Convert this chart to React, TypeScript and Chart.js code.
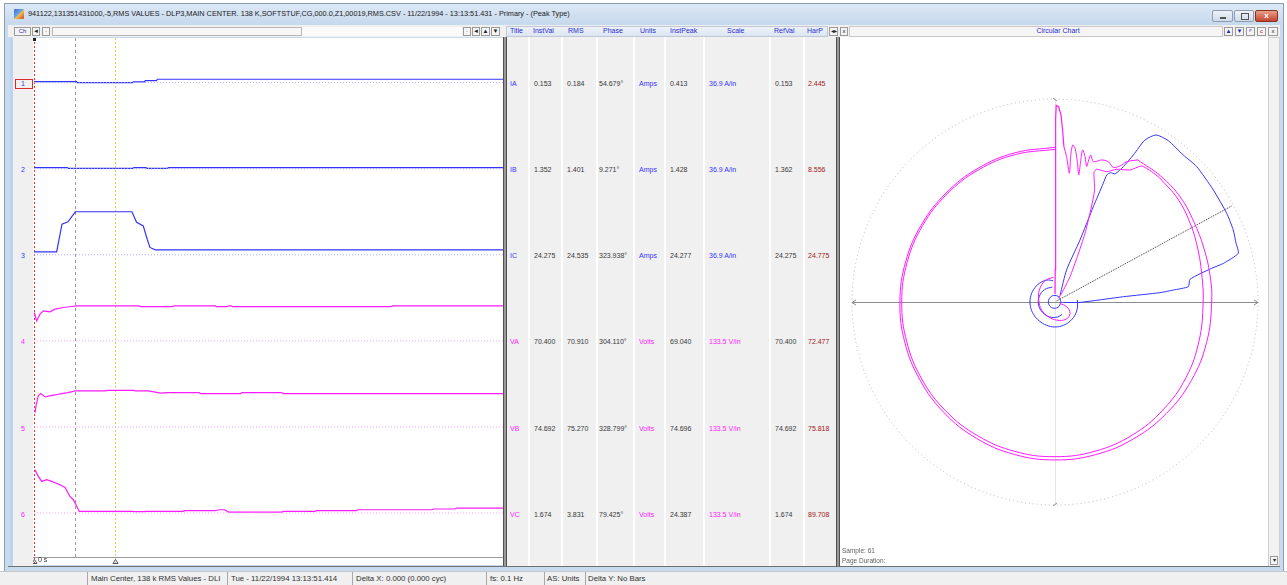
import React, { useEffect, useRef } from "react";
import { Chart, registerables } from "chart.js";

Chart.register(...registerables);

// ---------------- channel table data ----------------
const channelIds = ["1", "2", "3", "4", "5", "6"];
const channelTitles = ["IA", "IB", "IC", "VA", "VB", "VC"];
const channelUnits = ["Amps", "Amps", "Amps", "Volts", "Volts", "Volts"];
const instVals = ["0.153", "1.352", "24.275", "70.400", "74.692", "1.674"];
const rmsVals = ["0.184", "1.401", "24.535", "70.910", "75.270", "3.831"];
const phaseVals = ["54.679°", "9.271°", "323.938°", "304.110°", "328.799°", "79.425°"];
const instPeaks = ["0.413", "1.428", "24.277", "69.040", "74.696", "24.387"];
const scaleLabels = ["36.9 A/in", "36.9 A/in", "36.9 A/in", "133.5 V/in", "133.5 V/in", "133.5 V/in"];
const refVals = ["0.153", "1.362", "24.275", "70.400", "74.692", "1.674"];
const harPVals = ["2.445", "8.556", "24.775", "72.477", "75.818", "89.708"];
const tableHeaders = ["Title", "InstVal", "RMS", "Phase", "Units", "InstPeak", "Scale", "RefVal", "HarP"];

// display scale: engineering units spanned by one channel band
const unitsPerBand = [420, 420, 420, 176, 176, 176];

// ---------------- time traces: [sample, value] ----------------
const sampleMax = 352;
const cursorSamples = [0, 31, 61];

const traceIA: [number, number][] = [
  [0, 4.9], [32, 4.9], [32.5, 0.15], [74, 0.15], [74.5, 3.4], [83, 3.4], [83.5, 9.8], [92, 9.8], [92.5, 16.6], [352, 16.6],
];
const traceIB: [number, number][] = [
  [0, 5.4], [25, 5.4], [26, 1.4], [74, 1.4], [75, 5.4], [84, 5.4], [85, 1.4], [100, 1.4], [101, 5.4], [352, 5.4],
];
const traceIC: [number, number][] = [
  [0, 14.6], [17, 14.6], [21, 150], [25.5, 161], [31, 210], [73.5, 210], [77, 159], [82, 141], [85, 76], [87, 36], [91, 24.3], [352, 24.3],
];
const traceVA: [number, number][] = [
  [0.2, 58.1], [2, 40.9], [4.5, 54.6], [7, 61.3], [12, 59.3], [15.8, 64.8], [22, 68.3], [28.3, 70.3], [32, 71.6],
  [79, 71.6], [80, 70.0], [104, 70.0], [105, 71.6], [136, 71.6], [137, 70.0], [145, 70.0], [146, 71.6], [148, 71.6],
  [149, 70.0], [268, 70.0], [269, 71.6], [352, 71.6],
];
const traceVB: [number, number][] = [
  [0.75, 29.4], [1.5, 42.9], [3.2, 63.4], [5, 68.3], [8.3, 61.3], [11.5, 63.4], [15.8, 65.4], [20.8, 68.3], [25.7, 70.3],
  [30.8, 73.6], [53, 73.6], [56, 74.6], [75, 74.6], [76, 73.6], [86, 73.6], [95, 69], [100, 70.3], [124, 70.3],
  [125, 68.1], [155, 68.1], [156, 70.3], [186, 70.3], [187, 68.1], [352, 68.1],
];
const traceVC: [number, number][] = [
  [0.75, 88.5], [3.2, 74.8], [5.8, 64.6], [9.5, 68.1], [13.3, 64.6], [19.5, 57.9], [23.3, 52.4], [27, 33.9], [29.5, 27.2],
  [31.5, 17], [34, 3.3], [74, 3.3], [75, 2.7], [83, 2.7], [84, 3.3], [112, 3.3], [113, 4.7], [136, 4.7], [139, 6.7],
  [143, 6.7], [146, 2.0], [186, 2.0], [187, 3.3], [211, 3.3], [212, 4.7], [242, 4.7], [243, 6.7], [299, 6.7],
  [300, 8.2], [316, 8.2], [317, 10.2], [352, 10.2],
];
const traces = [traceIA, traceIB, traceIC, traceVA, traceVB, traceVC];

// ---------------- circular chart (phasors, fraction of full scale) ----------------
// [re, im] points
const phasorVcPath: [number, number][] = [
  [0.0, 0.04], [0.001, 0.158], [0.003, 0.289], [0.004, 0.388], [0.004, 0.5], [0.003, 0.62], [0.002, 0.757],
  [0.003, 0.9], [0.006, 0.968], [0.018, 0.962], [0.03, 0.92], [0.038, 0.84], [0.044, 0.765],
];
const phasorVaTransition: [number, number][] = [
  [0.044, 0.765], [0.057, 0.716], [0.071, 0.634], [0.077, 0.716], [0.087, 0.773], [0.099, 0.757], [0.11, 0.691],
  [0.117, 0.626], [0.126, 0.691], [0.136, 0.749], [0.148, 0.716], [0.156, 0.667], [0.166, 0.7], [0.176, 0.724],
  [0.189, 0.691], [0.23, 0.7], [0.263, 0.691], [0.287, 0.663], [0.32, 0.67], [0.353, 0.691], [0.406, 0.7],
];
// [angle deg, magnitude]
const phasorVaRing: [number, number][] = [
  [60, 0.81], [50, 0.81], [40, 0.805], [30, 0.79], [20, 0.78], [10, 0.775], [0, 0.772], [-15, 0.773], [-30, 0.775],
  [-45, 0.776], [-60, 0.777], [-75, 0.778], [-90, 0.778], [-105, 0.777], [-120, 0.775], [-135, 0.772], [-150, 0.768],
  [-165, 0.766], [-180, 0.764], [-195, 0.762], [-210, 0.76], [-225, 0.759], [-240, 0.76], [-255, 0.761], [-270, 0.762],
];
const phasorVbTransition: [number, number][] = [
  [0.016, 0.018], [0.033, 0.043], [0.074, 0.125], [0.11, 0.223], [0.148, 0.338], [0.176, 0.453], [0.195, 0.552],
  [0.192, 0.64], [0.205, 0.654], [0.255, 0.642], [0.304, 0.654], [0.369, 0.65], [0.427, 0.67], [0.476, 0.642], [0.514, 0.613],
];
const phasorVbRing: [number, number][] = [
  [50, 0.8], [40, 0.79], [30, 0.77], [20, 0.75], [10, 0.735], [0, 0.73], [-15, 0.735], [-30, 0.745], [-45, 0.752],
  [-60, 0.758], [-75, 0.761], [-90, 0.762], [-105, 0.762], [-120, 0.761], [-135, 0.76], [-150, 0.758], [-165, 0.756],
  [-180, 0.755], [-195, 0.754], [-210, 0.753], [-225, 0.752], [-240, 0.752], [-255, 0.752], [-270, 0.752],
];
const phasorVcSettle: [number, number][] = [
  [-0.008, 0.122], [-0.049, 0.105], [-0.077, 0.059], [-0.08, 0.01], [-0.066, -0.039], [-0.033, -0.072],
  [0.008, -0.089], [0.054, -0.085], [0.074, -0.056], [0.057, -0.023], [0.025, -0.007],
];
const phasorIcPath: [number, number][] = [
  [0.025, 0.034], [0.057, 0.158], [0.123, 0.305], [0.189, 0.47], [0.238, 0.585], [0.255, 0.626], [0.274, 0.637],
  [0.296, 0.631], [0.337, 0.667], [0.386, 0.724], [0.443, 0.798], [0.498, 0.823], [0.558, 0.795], [0.632, 0.724],
  [0.698, 0.667], [0.78, 0.552], [0.846, 0.437], [0.878, 0.355], [0.892, 0.289], [0.903, 0.24], [0.829, 0.19],
  [0.772, 0.166], [0.665, 0.112], [0.657, 0.076], [0.583, 0.059], [0.517, 0.046], [0.337, 0.026], [0.123, -0.002], [0.041, -0.002],
];
const phasorIaRing: [number, number][] = [
  [95, 0.105], [110, 0.115], [130, 0.12], [150, 0.122], [170, 0.123], [190, 0.123], [210, 0.122], [230, 0.121],
  [250, 0.122], [270, 0.123], [290, 0.122], [310, 0.12], [330, 0.117], [350, 0.113], [365, 0.11],
];
const phasorIbRing: [number, number][] = [
  [100, 0.075], [130, 0.08], [160, 0.082], [190, 0.082], [220, 0.08], [250, 0.078], [280, 0.075], [300, 0.07],
];
const phasorIbCore: [number, number][] = [
  [0, 0.03], [60, 0.032], [120, 0.033], [180, 0.033], [240, 0.032], [300, 0.03], [360, 0.03],
];
const cursorPhasor: [number, number][] = [[0.008, 0.005], [0.87, 0.473]];

const sampleLabel = "Sample: 61";

// ---------------- styling ----------------
const FONT = '"Liberation Sans", Arial, sans-serif';
const BLUE = "#3434ff";
const MAGENTA = "#ff1aff";
const chColor = (k: number) => (k < 3 ? BLUE : MAGENTA);
const chBase = (k: number) => (k < 3 ? "#a8a8ff" : "#ffa0ff");
const rowY = (k: number) => 84.3 + 86.1 * k;

const fromReIm = (pts: [number, number][]) => pts.map(([x, y]) => ({ x, y }));
const fromPolar = (pts: [number, number][]) =>
  pts.map(([a, m]) => ({ x: m * Math.cos((a * Math.PI) / 180), y: m * Math.sin((a * Math.PI) / 180) }));

function Txt(props: { x: number; y: number; size?: number; color?: string; children: any; w?: number; align?: string; weight?: number }) {
  const size = props.size ?? 7.5;
  const style: any = {
    position: "absolute",
    left: props.x,
    top: props.y - size * 0.6,
    fontSize: size,
    lineHeight: `${size * 1.2}px`,
    color: props.color ?? "#303030",
    whiteSpace: "nowrap",
    fontFamily: FONT,
    fontWeight: props.weight ?? 400,
  };
  if (props.w !== undefined) {
    style.width = props.w;
    style.textAlign = props.align ?? "center";
  }
  return <div style={style}>{props.children}</div>;
}

function Box(props: { x: number; y: number; w: number; h: number; bg?: string; border?: string; children?: any; style?: any }) {
  return (
    <div
      style={{
        position: "absolute",
        left: props.x,
        top: props.y,
        width: props.w,
        height: props.h,
        background: props.bg ?? "transparent",
        border: props.border,
        boxSizing: "border-box",
        ...(props.style || {}),
      }}
    >
      {props.children}
    </div>
  );
}

function Btn(props: { x: number; y: number; w: number; h: number; label: string; color?: string; bg?: string }) {
  return (
    <Box x={props.x} y={props.y} w={props.w} h={props.h} bg={props.bg ?? "#f4f4f4"} border="1px solid #9a9a9a">
      <div
        style={{
          fontSize: 6,
          lineHeight: `${props.h - 2}px`,
          textAlign: "center",
          color: props.color ?? "#202020",
          fontFamily: FONT,
        }}
      >
        {props.label}
      </div>
    </Box>
  );
}

export default function App() {
  const leftRef = useRef<HTMLCanvasElement>(null);
  const polarRef = useRef<HTMLCanvasElement>(null);

  useEffect(() => {
    const yMax = 6.03;
    const base = (k: number) => 5.511 - k;

    const leftDatasets: any[] = [];
    traces.forEach((tr, k) => {
      leftDatasets.push({
        data: [
          { x: 0, y: base(k) },
          { x: sampleMax, y: base(k) },
        ],
        borderColor: chBase(k),
        borderWidth: 1,
        borderDash: [1, 2],
        pointRadius: 0,
      });
      leftDatasets.push({
        data: tr.map(([s, v]) => ({ x: s, y: base(k) + v / unitsPerBand[k] })),
        borderColor: chColor(k),
        borderWidth: 1.2,
        pointRadius: 0,
      });
    });

    const leftDecor = {
      id: "leftDecor",
      beforeDatasetsDraw(chart: any) {
        const { ctx, chartArea, scales } = chart;
        const H = chart.height;
        ctx.save();
        ctx.strokeStyle = "#9c9c9c";
        ctx.lineWidth = 1;
        ctx.beginPath();
        ctx.moveTo(chartArea.left, Math.round(chartArea.bottom) + 0.5);
        ctx.lineTo(chartArea.right, Math.round(chartArea.bottom) + 0.5);
        ctx.stroke();
        const styles = [
          { c: "#ff2a2a", d: [2, 2] },
          { c: "#9a9a9a", d: [3, 3] },
          { c: "#d2d25a", d: [2, 2] },
        ];
        cursorSamples.forEach((s, i) => {
          const px = Math.round(scales.x.getPixelForValue(s)) + 0.5;
          ctx.strokeStyle = styles[i].c;
          ctx.setLineDash(styles[i].d);
          ctx.beginPath();
          ctx.moveTo(px, 0);
          ctx.lineTo(px, i === 1 ? chartArea.bottom : H);
          ctx.stroke();
        });
        ctx.setLineDash([]);
        const p0 = Math.round(scales.x.getPixelForValue(cursorSamples[0]));
        ctx.fillStyle = "#202020";
        ctx.fillRect(p0 - 1, 0, 3, 3);
        ctx.strokeStyle = "#505050";
        [cursorSamples[0], cursorSamples[2]].forEach((s) => {
          const px = Math.round(scales.x.getPixelForValue(s)) + 0.5;
          ctx.beginPath();
          ctx.moveTo(px - 2.5, H - 1.5);
          ctx.lineTo(px, H - 5.5);
          ctx.lineTo(px + 2.5, H - 1.5);
          ctx.closePath();
          ctx.stroke();
        });
        ctx.fillStyle = "#303030";
        ctx.font = `7px ${FONT}`;
        ctx.textBaseline = "bottom";
        ctx.fillText("0 s", p0 + 4, H - 1);
        ctx.restore();
      },
    };

    const c1 = new Chart(leftRef.current as HTMLCanvasElement, {
      type: "line",
      data: { datasets: leftDatasets },
      options: {
        responsive: false,
        animation: false,
        devicePixelRatio: 1,
        events: [],
        layout: { padding: { left: 0, right: 0, top: 0, bottom: 8 } },
        plugins: { legend: { display: false }, tooltip: { enabled: false } },
        scales: {
          x: { type: "linear", min: -0.75, max: sampleMax, display: false },
          y: { type: "linear", min: 0, max: yMax, display: false },
        },
      },
      plugins: [leftDecor],
    } as any);

    const mk = (data: any[], color: string, width = 1, extra: any = {}) => ({
      data,
      showLine: true,
      borderColor: color,
      backgroundColor: color,
      borderWidth: width,
      pointRadius: 0,
      tension: 0,
      ...extra,
    });

    const polarDatasets = [
      mk(fromReIm(phasorVcPath), MAGENTA, 1.2),
      mk(fromReIm(phasorVaTransition), MAGENTA, 1, { tension: 0.3 }),
      mk(fromPolar(phasorVaRing), MAGENTA, 1, { tension: 0.4 }),
      mk(fromReIm(phasorVbTransition), MAGENTA, 1, { tension: 0.2 }),
      mk(fromPolar(phasorVbRing), MAGENTA, 1, { tension: 0.4 }),
      mk(fromReIm(phasorVcSettle), MAGENTA, 1, { tension: 0.4 }),
      mk(fromReIm(phasorIcPath), BLUE, 1, { tension: 0.2 }),
      mk(fromPolar(phasorIaRing), BLUE, 1, { tension: 0.4 }),
      mk(fromPolar(phasorIbRing), BLUE, 1, { tension: 0.4 }),
      mk(fromPolar(phasorIbCore), BLUE, 1, { tension: 0.4 }),
      mk(fromReIm(cursorPhasor), "#303030", 1, { borderDash: [1, 1] }),
    ];

    const polarGrid = {
      id: "polarGrid",
      beforeDatasetsDraw(chart: any) {
        const { ctx, scales } = chart;
        const cx = scales.x.getPixelForValue(0);
        const cy = scales.y.getPixelForValue(0);
        const r = scales.x.getPixelForValue(1) - cx;
        ctx.save();
        ctx.strokeStyle = "#b4b4b4";
        ctx.lineWidth = 1;
        ctx.setLineDash([1, 3]);
        ctx.beginPath();
        ctx.arc(cx, cy, r, 0, Math.PI * 2);
        ctx.stroke();
        ctx.setLineDash([]);
        ctx.strokeStyle = "#e6e6e6";
        ctx.beginPath();
        ctx.moveTo(Math.round(cx) + 0.5, cy - r);
        ctx.lineTo(Math.round(cx) + 0.5, cy + r);
        ctx.stroke();
        ctx.strokeStyle = "#8c8c8c";
        const hy = Math.round(cy) + 0.5;
        ctx.beginPath();
        ctx.moveTo(cx - r, hy);
        ctx.lineTo(cx + r, hy);
        ctx.moveTo(cx - r + 4, hy - 2.5);
        ctx.lineTo(cx - r, hy);
        ctx.lineTo(cx - r + 4, hy + 2.5);
        ctx.moveTo(cx + r - 4, hy - 2.5);
        ctx.lineTo(cx + r, hy);
        ctx.lineTo(cx + r - 4, hy + 2.5);
        ctx.moveTo(cx - 2, cy - r - 1);
        ctx.lineTo(cx + 2, cy - r + 2);
        ctx.moveTo(cx - 2, cy + r + 1);
        ctx.lineTo(cx + 2, cy + r - 2);
        ctx.stroke();
        ctx.restore();
      },
    };

    const c2 = new Chart(polarRef.current as HTMLCanvasElement, {
      type: "scatter",
      data: { datasets: polarDatasets },
      options: {
        responsive: false,
        animation: false,
        devicePixelRatio: 1,
        events: [],
        layout: { padding: 0 },
        plugins: { legend: { display: false }, tooltip: { enabled: false } },
        scales: {
          x: { type: "linear", min: -1.0591, max: 1.0493, display: false },
          y: { type: "linear", min: -1.3054, max: 1.3005, display: false },
        },
      },
      plugins: [polarGrid],
    } as any);

    return () => {
      c1.destroy();
      c2.destroy();
    };
  }, []);

  const colLefts = [510, 534, 567, 599, 639, 670, 709, 775, 808];
  const headLefts = [510, 533, 568, 603, 640, 670, 727, 774, 807];
  const colSeps = [528, 561, 596, 633, 664, 703, 769, 803];

  const rows = channelTitles.map((t, k) => [
    { v: t, c: chColor(k) },
    { v: instVals[k], c: "#383838" },
    { v: rmsVals[k], c: "#383838" },
    { v: phaseVals[k], c: "#383838" },
    { v: channelUnits[k], c: chColor(k) },
    { v: instPeaks[k], c: "#383838" },
    { v: scaleLabels[k], c: chColor(k) },
    { v: refVals[k], c: "#383838" },
    { v: harPVals[k], c: "#a01818" },
  ]);

  return (
    <div
      style={{
        position: "fixed",
        left: 0,
        top: 0,
        width: 1287,
        height: 585,
        overflow: "hidden",
        background: "#ffffff",
        fontFamily: FONT,
      }}
    >
      {/* window frame */}
      <Box x={4} y={3} w={1280} h={569} bg="#c8daee" border="1px solid #8c9db3" />
      {/* title bar */}
      <Box x={5} y={4} w={1278} h={21} style={{ background: "linear-gradient(#dce8f5, #c6d8ed)" }} />
      <Box x={14} y={9} w={10} h={10} style={{ background: "linear-gradient(135deg,#3c6fd0 0%,#6aa3e8 45%,#f0c040 55%,#d04040 100%)", borderRadius: 1 }} />
      <Txt x={28} y={14} size={7.3} color="#1a1a1a">
        941122,131351431000,-5,RMS VALUES - DLP3,MAIN CENTER. 138 K,SOFTSTUF,CG,000.0,Z1,00019,RMS.CSV - 11/22/1994 - 13:13:51.431 - Primary - (Peak Type)
      </Txt>
      {/* window buttons */}
      <Box x={1212} y={10} w={21} h={12} bg="linear-gradient(#eef3f9,#cfdbea)" border="1px solid #8e9bb0" style={{ borderRadius: 2 }}>
        <div style={{ position: "absolute", left: 7, top: 6, width: 6, height: 2, background: "#555" }} />
      </Box>
      <Box x={1234} y={10} w={20} h={12} bg="linear-gradient(#eef3f9,#cfdbea)" border="1px solid #8e9bb0" style={{ borderRadius: 2 }}>
        <div style={{ position: "absolute", left: 6, top: 2, width: 6, height: 5, border: "1px solid #555" }} />
      </Box>
      <Box x={1255} y={10} w={23} h={12} bg="linear-gradient(#e8a08a,#c6442e)" border="1px solid #8a3020" style={{ borderRadius: 2 }}>
        <div style={{ color: "#fff", fontSize: 8, lineHeight: "10px", textAlign: "center", fontWeight: 700 }}>x</div>
      </Box>

      {/* toolbar / header row */}
      <Box x={8} y={25} w={1272} h={12} bg="#f0f0f0" />
      <Btn x={14} y={27} w={17} h={9} label="Ch" color="#3030a0" />
      <Btn x={32} y={27} w={8} h={9} label="◄" />
      <Btn x={42} y={27} w={8} h={9} label="·" />
      <Box x={52} y={27} w={250} h={9} bg="#f7f7f7" border="1px solid #b8b8b8" />
      <Box x={302} y={27} w={160} h={9} bg="#fbfbfb" />
      <Btn x={463} y={27} w={8} h={9} label="·" />
      <Btn x={472} y={27} w={8} h={9} label="◄" />
      <Btn x={481} y={27} w={9} h={9} label="▲" />
      <Btn x={491} y={27} w={9} h={9} label="▼" />
      {/* table header */}
      <Box x={506} y={26} w={322} h={11} bg="linear-gradient(#eef3fa,#dbe5f2)" border="1px solid #c0c8d4" />
      {tableHeaders.map((h, i) => (
        <Txt key={h} x={headLefts[i]} y={31.5} size={7} color="#2a2ad0">
          {h}
        </Txt>
      ))}
      <Btn x={829} y={27} w={9} h={9} label="◂▸" />
      <Btn x={840} y={27} w={8} h={9} label="x" />
      {/* circular chart header */}
      <Box x={849} y={26} w={374} h={11} bg="#f5f5f5" border="1px solid #c8c8c8" />
      <Txt x={849} y={31.5} size={7} color="#2a2ad0" w={418}>
        Circular Chart
      </Txt>
      <Btn x={1224} y={27} w={9} h={9} label="▲" color="#2020c0" />
      <Btn x={1235} y={27} w={9} h={9} label="▼" color="#2020c0" />
      <Btn x={1246} y={27} w={9} h={9} label="ᵖ" color="#2020c0" />
      <Btn x={1257} y={27} w={9} h={9} label="c" color="#c02020" />
      <Btn x={1268} y={27} w={10} h={9} label="x" />

      {/* left gutter */}
      <Box x={10} y={37} w={3} h={530} bg="#bcd4ee" />
      <Box x={13} y={37} w={20} h={530} bg="#f0f0f0" />
      {channelIds.map((id, k) => (
        <Txt key={id} x={13} y={rowY(k)} size={7} color={chColor(k)} w={20}>
          {id}
        </Txt>
      ))}
      <Box x={15} y={79} w={18} h={10} border="1px solid #e02828" />

      {/* left plot */}
      <canvas
        ref={leftRef}
        width={470}
        height={527}
        style={{ position: "absolute", left: 33, top: 38, width: 470, height: 527, background: "#ffffff" }}
      />

      {/* splitter */}
      <Box x={503} y={37} w={4} h={530} bg="#9a9a9a" style={{ borderLeft: "1px solid #505050", borderRight: "1px solid #505050" }} />

      {/* middle table */}
      <Box x={507} y={37} w={329} h={530} bg="#f0f0f0" />
      {colSeps.map((x) => (
        <Box key={x} x={x} y={37} w={2} h={530} bg="#ffffff" />
      ))}
      {rows.map((r, k) =>
        r.map((cell, i) => (
          <Txt key={`${k}-${i}`} x={colLefts[i]} y={rowY(k)} size={7} color={cell.c}>
            {cell.v}
          </Txt>
        ))
      )}

      {/* splitter 2 */}
      <Box x={836} y={37} w={4} h={530} bg="#9a9a9a" style={{ borderLeft: "1px solid #505050", borderRight: "1px solid #505050" }} />

      {/* right circular chart */}
      <Box x={840} y={37} w={428} h={530} bg="#ffffff" />
      <canvas
        ref={polarRef}
        width={428}
        height={529}
        style={{ position: "absolute", left: 840, top: 38, width: 428, height: 529 }}
      />
      <Txt x={842} y={551} size={6.5} color="#606060">
        {sampleLabel}
      </Txt>
      <Txt x={842} y={561} size={6.5} color="#606060">
        Page Duration:
      </Txt>
      <Box x={1268} y={37} w={12} h={530} bg="#f2f2f2" border="1px solid #d0d0d0" />
      <Btn x={1270} y={556} w={8} h={9} label="▾" />

      {/* panel bottom edge */}
      <Box x={8} y={566} w={1272} h={1} bg="#707070" />

      {/* status bar */}
      <Box x={0} y={571} w={1287} h={14} bg="#f0f0f0" style={{ borderTop: "1px solid #c8c8c8" }} />
      {[87, 227, 352, 486, 544, 585].map((x) => (
        <Box key={x} x={x} y={572} w={1} h={13} bg="#a8a8a8" />
      ))}
      <Txt x={91} y={579} size={7.8} color="#303030">
        Main Center, 138 k RMS Values - DLI
      </Txt>
      <Txt x={231} y={579} size={7.8} color="#303030">
        Tue - 11/22/1994 13:13:51.414
      </Txt>
      <Txt x={356} y={579} size={7.8} color="#303030">
        Delta X: 0.000  (0.000 cyc)
      </Txt>
      <Txt x={490} y={579} size={7.8} color="#303030">
        fs:  0.1 Hz
      </Txt>
      <Txt x={547} y={579} size={7.8} color="#303030">
        AS: Units
      </Txt>
      <Txt x={588} y={579} size={7.8} color="#303030">
        Delta Y:  No Bars
      </Txt>
    </div>
  );
}
